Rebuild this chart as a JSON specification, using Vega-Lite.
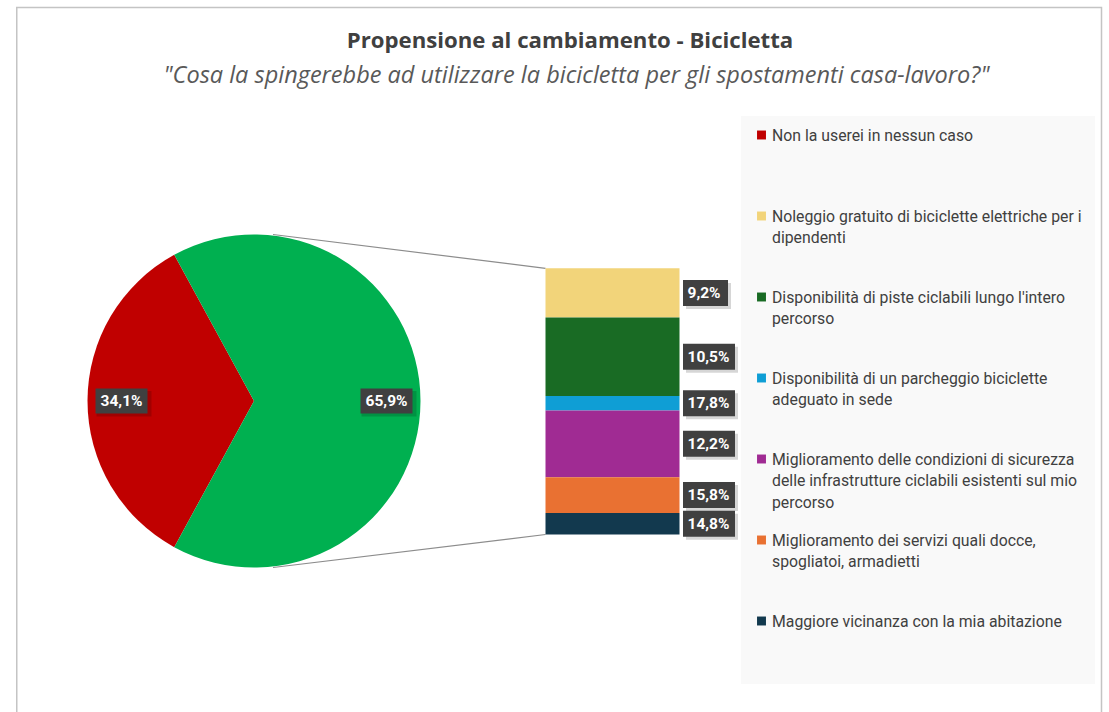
{
  "$schema": "https://vega.github.io/schema/vega-lite/v6.json",
  "width": 1109,
  "height": 712,
  "autosize": "none",
  "padding": 0,
  "background": "white",
  "config": {"view": {"stroke": null}, "font": "Roboto", "axis": {"disable": true}},
  "datasets": {
    "torta": [
      {"categoria": "Non la userei in nessun caso", "quota": 34.1, "etichetta": "34,1%", "ordine": 1},
      {"categoria": "La userei a determinate condizioni", "quota": 65.9, "etichetta": "65,9%", "ordine": 2}
    ],
    "barra": [
      {"categoria": "Noleggio gratuito di biciclette elettriche per i dipendenti", "quota": 12.2, "etichetta": "9,2%", "ordine": 1},
      {"categoria": "Disponibilità di piste ciclabili lungo l'intero percorso", "quota": 19.4, "etichetta": "10,5%", "ordine": 2},
      {"categoria": "Disponibilità di un parcheggio biciclette adeguato in sede", "quota": 3.6, "etichetta": "17,8%", "ordine": 3},
      {"categoria": "Miglioramento delle condizioni di sicurezza delle infrastrutture ciclabili esistenti sul mio percorso", "quota": 16.5, "etichetta": "12,2%", "ordine": 4},
      {"categoria": "Miglioramento dei servizi quali docce, spogliatoi, armadietti", "quota": 8.9, "etichetta": "15,8%", "ordine": 5},
      {"categoria": "Maggiore vicinanza con la mia abitazione", "quota": 5.3, "etichetta": "14,8%", "ordine": 6}
    ],
    "legenda": [
      {"categoria": "Non la userei in nessun caso", "testo": "Non la userei in nessun caso"},
      {"categoria": "Noleggio gratuito di biciclette elettriche per i dipendenti", "testo": "Noleggio gratuito di biciclette elettriche per i\ndipendenti"},
      {"categoria": "Disponibilità di piste ciclabili lungo l'intero percorso", "testo": "Disponibilità di piste ciclabili lungo l'intero\npercorso"},
      {"categoria": "Disponibilità di un parcheggio biciclette adeguato in sede", "testo": "Disponibilità di un parcheggio biciclette\nadeguato in sede"},
      {"categoria": "Miglioramento delle condizioni di sicurezza delle infrastrutture ciclabili esistenti sul mio percorso", "testo": "Miglioramento delle condizioni di sicurezza\ndelle infrastrutture ciclabili esistenti sul mio\npercorso"},
      {"categoria": "Miglioramento dei servizi quali docce, spogliatoi, armadietti", "testo": "Miglioramento dei servizi quali docce,\nspogliatoi, armadietti"},
      {"categoria": "Maggiore vicinanza con la mia abitazione", "testo": "Maggiore vicinanza con la mia abitazione"}
    ]
  },
  "resolve": {"scale": {"y": "independent"}},
  "layer": [
    {
      "layer": [
        {
          "data": {"values": [{}]},
          "mark": {"type": "rect", "fill": "white", "stroke": "#c4c4c4", "strokeWidth": 1.5},
          "encoding": {
            "x": {"datum": 16.75, "type": "quantitative", "scale": {"domain": [0, 1109], "nice": false, "zero": false}},
            "x2": {"datum": 1101.5},
            "y": {"datum": 7.5, "type": "quantitative", "scale": {"domain": [0, 712], "range": [0, 712], "nice": false, "zero": false}},
            "y2": {"datum": 740}
          }
        },
        {
          "data": {"values": [{}]},
          "mark": {"type": "rect", "fill": "#f9f9f9"},
          "encoding": {
            "x": {"datum": 741, "type": "quantitative", "scale": {"domain": [0, 1109], "nice": false, "zero": false}},
            "x2": {"datum": 1095},
            "y": {"datum": 116, "type": "quantitative", "scale": {"domain": [0, 712], "range": [0, 712], "nice": false, "zero": false}},
            "y2": {"datum": 684}
          }
        },
        {
          "data": {"values": [{"t": "Propensione al cambiamento - Bicicletta"}]},
          "mark": {"type": "text", "font": "Open Sans", "fontSize": 22.2, "fontWeight": "bold", "color": "#404040", "align": "center", "baseline": "alphabetic"},
          "encoding": {
            "text": {"field": "t"},
            "x": {"datum": 570, "type": "quantitative", "scale": {"domain": [0, 1109], "nice": false, "zero": false}},
            "y": {"datum": 48, "type": "quantitative", "scale": {"domain": [0, 712], "range": [0, 712], "nice": false, "zero": false}}
          }
        },
        {
          "data": {"values": [{"t": "\"Cosa la spingerebbe ad utilizzare la bicicletta per gli spostamenti casa-lavoro?\""}]},
          "mark": {"type": "text", "font": "Open Sans", "fontSize": 23.5, "fontStyle": "italic", "color": "#595959", "align": "center", "baseline": "alphabetic"},
          "encoding": {
            "text": {"field": "t"},
            "x": {"datum": 576.5, "type": "quantitative", "scale": {"domain": [0, 1109], "nice": false, "zero": false}},
            "y": {"datum": 82.5, "type": "quantitative", "scale": {"domain": [0, 712], "range": [0, 712], "nice": false, "zero": false}}
          }
        },
        {
          "data": {"values": [{}]},
          "mark": {"type": "rule", "color": "#8c8c8c", "strokeWidth": 1.2},
          "encoding": {
            "x": {"datum": 273, "type": "quantitative", "scale": {"domain": [0, 1109], "nice": false, "zero": false}},
            "x2": {"datum": 545.5},
            "y": {"datum": 234.5, "type": "quantitative", "scale": {"domain": [0, 712], "range": [0, 712], "nice": false, "zero": false}},
            "y2": {"datum": 268.3}
          }
        },
        {
          "data": {"values": [{}]},
          "mark": {"type": "rule", "color": "#8c8c8c", "strokeWidth": 1.2},
          "encoding": {
            "x": {"datum": 273, "type": "quantitative", "scale": {"domain": [0, 1109], "nice": false, "zero": false}},
            "x2": {"datum": 545.5},
            "y": {"datum": 567.5, "type": "quantitative", "scale": {"domain": [0, 712], "range": [0, 712], "nice": false, "zero": false}},
            "y2": {"datum": 534.5}
          }
        },
        {
          "data": {"name": "torta"},
          "mark": {"type": "arc", "outerRadius": 166.5},
          "encoding": {
            "x": {"datum": 254, "type": "quantitative", "scale": {"domain": [0, 1109], "nice": false, "zero": false}},
            "y": {"datum": 401, "type": "quantitative", "scale": {"domain": [0, 712], "range": [0, 712], "nice": false, "zero": false}},
            "theta": {"field": "quota", "type": "quantitative", "stack": true, "scale": {"range": [3.6411, 9.9243]}},
            "order": {"field": "ordine", "type": "quantitative"},
            "color": {
              "field": "categoria", "type": "nominal", "legend": null,
              "scale": {
                "domain": ["Non la userei in nessun caso", "La userei a determinate condizioni", "Noleggio gratuito di biciclette elettriche per i dipendenti", "Disponibilità di piste ciclabili lungo l'intero percorso", "Disponibilità di un parcheggio biciclette adeguato in sede", "Miglioramento delle condizioni di sicurezza delle infrastrutture ciclabili esistenti sul mio percorso", "Miglioramento dei servizi quali docce, spogliatoi, armadietti", "Maggiore vicinanza con la mia abitazione"],
                "range": ["#C00000", "#00B050", "#F2D47A", "#196B24", "#0F9ED5", "#A02B93", "#E97132", "#12394E"]
              }
            }
          }
        },
        {
          "data": {"name": "torta"},
          "transform": [
            {"window": [{"op": "sum", "field": "quota", "as": "cum"}], "sort": [{"field": "ordine"}], "frame": [null, 0]},
            {"calculate": "(208.62 + 3.6 * (datum.cum - datum.quota / 2)) * PI / 180", "as": "ang"},
            {"calculate": "254 + 132.5 * sin(datum.ang)", "as": "lx"},
            {"calculate": "401 - 132.5 * cos(datum.ang)", "as": "ly"}
          ],
          "encoding": {
            "x": {"field": "lx", "type": "quantitative", "scale": {"domain": [0, 1109], "nice": false, "zero": false}},
            "y": {"field": "ly", "type": "quantitative", "scale": {"domain": [0, 712], "range": [0, 712], "nice": false, "zero": false}}
          },
          "layer": [
            {"mark": {"type": "point", "filled": true, "fill": "#000000", "opacity": 0.16, "strokeWidth": 0, "size": 400, "shape": "M-2.5,-1.0H3.0V1.55H-2.5Z"}},
            {"mark": {"type": "point", "filled": true, "fill": "#404040", "opacity": 1, "strokeWidth": 0, "size": 400, "shape": "M-2.6,-1.25H2.6V1.25H-2.6Z"}},
            {"mark": {"type": "text", "color": "white", "fontWeight": "bold", "fontSize": 15.5, "align": "center", "baseline": "middle"}, "encoding": {"text": {"field": "etichetta"}}}
          ]
        }
      ]
    },
    {
      "data": {"name": "barra"},
      "transform": [
        {"stack": "quota", "groupby": [], "sort": [{"field": "ordine", "order": "descending"}], "as": ["y0", "y1"]},
        {"calculate": "(datum.y0 + datum.y1) / 2", "as": "mid"}
      ],
      "layer": [
        {
          "mark": {"type": "rect"},
          "encoding": {
            "x": {"datum": 545.5, "type": "quantitative", "scale": {"domain": [0, 1109], "nice": false, "zero": false}},
            "x2": {"datum": 679.5},
            "y": {"field": "y0", "type": "quantitative", "scale": {"domain": [0, 65.9], "range": [534.5, 268.3], "nice": false, "zero": false}},
            "y2": {"field": "y1"},
            "color": {
              "field": "categoria", "type": "nominal", "legend": null,
              "scale": {
                "domain": ["Non la userei in nessun caso", "La userei a determinate condizioni", "Noleggio gratuito di biciclette elettriche per i dipendenti", "Disponibilità di piste ciclabili lungo l'intero percorso", "Disponibilità di un parcheggio biciclette adeguato in sede", "Miglioramento delle condizioni di sicurezza delle infrastrutture ciclabili esistenti sul mio percorso", "Miglioramento dei servizi quali docce, spogliatoi, armadietti", "Maggiore vicinanza con la mia abitazione"],
                "range": ["#C00000", "#00B050", "#F2D47A", "#196B24", "#0F9ED5", "#A02B93", "#E97132", "#12394E"]
              }
            }
          }
        },
        {
          "mark": {"type": "point", "filled": true, "fill": "#000000", "opacity": 0.16, "strokeWidth": 0, "size": 400},
          "encoding": {
            "x": {"datum": 683, "type": "quantitative", "scale": {"domain": [0, 1109], "nice": false, "zero": false}},
            "y": {"field": "mid", "type": "quantitative", "scale": {"domain": [0, 65.9], "range": [534.5, 268.3], "nice": false, "zero": false}},
            "shape": {"condition": {"test": "length(datum.etichetta) < 5", "value": "M0.3,-1.0H4.8V1.6H0.3Z"}, "value": "M0.3,-1.0H5.5V1.6H0.3Z"}
          }
        },
        {
          "mark": {"type": "point", "filled": true, "fill": "#404040", "opacity": 1, "strokeWidth": 0, "size": 400},
          "encoding": {
            "x": {"datum": 683, "type": "quantitative", "scale": {"domain": [0, 1109], "nice": false, "zero": false}},
            "y": {"field": "mid", "type": "quantitative", "scale": {"domain": [0, 65.9], "range": [534.5, 268.3], "nice": false, "zero": false}},
            "shape": {"condition": {"test": "length(datum.etichetta) < 5", "value": "M0,-1.3H4.5V1.3H0Z"}, "value": "M0,-1.3H5.2V1.3H0Z"}
          }
        },
        {
          "mark": {"type": "text", "color": "white", "fontWeight": "bold", "fontSize": 15.5, "align": "left", "baseline": "middle"},
          "encoding": {
            "x": {"datum": 687.5, "type": "quantitative", "scale": {"domain": [0, 1109], "nice": false, "zero": false}},
            "y": {"field": "mid", "type": "quantitative", "scale": {"domain": [0, 65.9], "range": [534.5, 268.3], "nice": false, "zero": false}},
            "text": {"field": "etichetta"}
          }
        }
      ]
    },
    {
      "data": {"name": "legenda"},
      "encoding": {
        "y": {
          "field": "categoria", "type": "nominal",
          "scale": {
            "type": "point", "padding": 0, "range": [135, 621],
            "domain": ["Non la userei in nessun caso", "Noleggio gratuito di biciclette elettriche per i dipendenti", "Disponibilità di piste ciclabili lungo l'intero percorso", "Disponibilità di un parcheggio biciclette adeguato in sede", "Miglioramento delle condizioni di sicurezza delle infrastrutture ciclabili esistenti sul mio percorso", "Miglioramento dei servizi quali docce, spogliatoi, armadietti", "Maggiore vicinanza con la mia abitazione"]
          }
        }
      },
      "layer": [
        {
          "mark": {"type": "point", "shape": "square", "filled": true, "opacity": 1, "size": 80, "strokeWidth": 0},
          "encoding": {
            "x": {"datum": 761.5, "type": "quantitative", "scale": {"domain": [0, 1109], "nice": false, "zero": false}},
            "color": {
              "field": "categoria", "type": "nominal", "legend": null,
              "scale": {
                "domain": ["Non la userei in nessun caso", "La userei a determinate condizioni", "Noleggio gratuito di biciclette elettriche per i dipendenti", "Disponibilità di piste ciclabili lungo l'intero percorso", "Disponibilità di un parcheggio biciclette adeguato in sede", "Miglioramento delle condizioni di sicurezza delle infrastrutture ciclabili esistenti sul mio percorso", "Miglioramento dei servizi quali docce, spogliatoi, armadietti", "Maggiore vicinanza con la mia abitazione"],
                "range": ["#C00000", "#00B050", "#F2D47A", "#196B24", "#0F9ED5", "#A02B93", "#E97132", "#12394E"]
              }
            }
          }
        },
        {
          "mark": {"type": "text", "align": "left", "baseline": "alphabetic", "dy": 5.5, "fontSize": 15.8, "lineHeight": 21.5, "lineBreak": "\n", "color": "#404040"},
          "encoding": {
            "x": {"datum": 772, "type": "quantitative", "scale": {"domain": [0, 1109], "nice": false, "zero": false}},
            "text": {"field": "testo"}
          }
        }
      ]
    }
  ]
}
